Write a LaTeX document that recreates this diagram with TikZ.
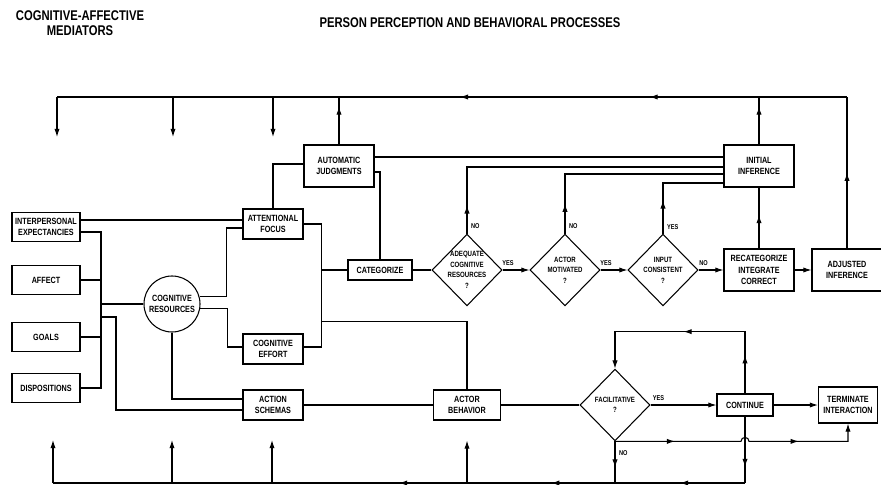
\documentclass[tikz,border=0pt]{standalone}
\usepackage{fontspec}
\setmainfont{Liberation Sans}
\newfontfamily\condfont{Liberation Sans Bold}[FakeStretch=0.8]
\usetikzlibrary{shapes.geometric,arrows.meta,decorations.markings,calc}
\newcommand\tipmark{{\arrow{Latex[length=7pt,width=4.5pt]}}}

\begin{document}
\begin{tikzpicture}[x=0.03cm, y=-0.03cm, line width=0.9pt,
  box/.style={draw, align=center, inner sep=1pt, font=\condfont\fontsize{7.7}{9}\selectfont},
  sidebox/.style={box, minimum width=2.04cm, minimum height=0.87cm},
  midbox/.style={box, minimum width=1.8cm, minimum height=0.9cm},
  bigbox/.style={box, minimum width=2.1cm, minimum height=1.26cm, font=\condfont\fontsize{7.7}{10}\selectfont},
  query/.style={draw, diamond, align=center, inner sep=-6pt, minimum width=2.1cm, minimum height=2.15cm, font=\condfont\fontsize{6.5}{9}\selectfont},
  answer/.style={font=\condfont\fontsize{6}{7}\selectfont, inner sep=3pt},
  heading/.style={align=center, font=\condfont\fontsize{12}{13}\selectfont},
  arrowed/.style={-{Latex[length=7pt,width=4.5pt]}},
  tipsat/.style={postaction={decorate, decoration={markings, #1}}},
  midtip/.style={tipsat={mark=at position #1 with \tipmark}}]
\useasboundingbox (0,0) rectangle (881,485);
\node[heading] (medtitle) at (80,23) {COGNITIVE-AFFECTIVE\\MEDIATORS};
\node[heading] (proctitle) at (470,23) {PERSON PERCEPTION AND BEHAVIORAL PROCESSES};
\node[sidebox] (inexp) at (46,227) {INTERPERSONAL\\EXPECTANCIES};
\node[sidebox] (affect) at (46,280) {AFFECT};
\node[sidebox] (goals) at (46,337) {GOALS};
\node[sidebox] (dispo) at (46,388) {DISPOSITIONS};
\node[box, circle, minimum size=1.68cm] (cogres) at (172,304) {COGNITIVE\\RESOURCES};
\node[midbox] (focus) at (273,224) {ATTENTIONAL\\FOCUS};
\node[midbox] (effort) at (273,349) {COGNITIVE\\EFFORT};
\node[midbox] (schemas) at (273,405) {ACTION\\SCHEMAS};
\node[bigbox] (autojudg) at (339,166) {AUTOMATIC\\JUDGMENTS};
\node[box, minimum width=1.92cm, minimum height=0.6cm] (categ) at (380,270) {CATEGORIZE};
\node[query] (adequate) at (467,270) {ADEQUATE\\COGNITIVE\\RESOURCES\\?};
\node[query] (motivated) at (565,270) {ACTOR\\MOTIVATED\\?};
\node[query] (consistent) at (663,270) {INPUT\\CONSISTENT\\?};
\node[bigbox] (initinf) at (759,166) {INITIAL\\INFERENCE};
\node[bigbox] (recat) at (759,270) {RECATEGORIZE\\INTEGRATE\\CORRECT};
\node[bigbox] (adjinf) at (847,270) {ADJUSTED\\INFERENCE};
\node[box, minimum width=2.0cm, minimum height=0.9cm] (actbeh) at (467,405) {ACTOR\\BEHAVIOR};
\node[query] (facil) at (615,405) {FACILITATIVE\\?};
\node[box, minimum width=1.68cm, minimum height=0.66cm] (cont) at (745,405) {CONTINUE};
\node[box, minimum width=1.77cm, minimum height=1.08cm] (term) at (848,405) {TERMINATE\\INTERACTION};
\coordinate (topL) at (57,97);
\coordinate (botL) at (53,483);
\coordinate (busT) at (101,232);
\coordinate (busB) at (101,388);
\draw ($(inexp.east)+(0,-7)$) -- ($(inexp.east -| focus.west)+(0,-7)$);
\draw ($(inexp.east)+(0,5)$) -- (busT) -- (busB) -- (dispo.east);
\draw (affect.east) -- (affect.east -| busT);
\draw (goals.east) -- (goals.east -| busT);
\draw (cogres.west -| busT) -- (cogres.west);
\draw ($(cogres.west -| busT)+(0,13)$) -- ++(15,0) |- ($(schemas.west)+(0,5)$);
\draw (cogres.15) -- ++(27,0) |- ($(focus.west)+(0,4)$);
\draw (cogres.-10) -- ++(27,0) |- ($(effort.west)+(0,-2)$);
\draw (cogres.south) |- ($(schemas.west)+(0,-6)$);
\draw (focus.north) |- ($(autojudg.west)+(0,-2)$);
\draw (focus.east) -- ++(18,0) coordinate (fbus) |- ($(effort.east)+(0,-2)$);
\draw (categ.west -| fbus) -- (categ.west);
\draw ($(fbus |- actbeh.north)+(0,-68)$) -| (actbeh.north);
\draw ($(autojudg.east)+(0,6)$) -| (categ.north);
\draw ($(autojudg.east)+(0,-9)$) -- ($(initinf.west)+(0,-9)$);
\draw (categ.east) -- (adequate.west);
\draw[arrowed] (adequate.east) -- node[answer, above, pos=0.2] {YES} (motivated.west);
\draw[arrowed] (motivated.east) -- node[answer, above, pos=0.2] {YES} (consistent.west);
\draw[arrowed] (consistent.east) -- node[answer, above, pos=0.2] {NO} (recat.west);
\draw[midtip=0.85cm] (adequate.north) |- node[answer, right, pos=0.06] {NO} ($(initinf.west)+(0,1)$);
\draw[midtip=0.9cm] (motivated.north) |- node[answer, right, pos=0.06] {NO} ($(initinf.west)+(0,8)$);
\draw[midtip=1cm] (consistent.north) |- node[answer, right, pos=0.06] {YES} ($(initinf.west)+(0,17)$);
\draw[midtip=0.55] (recat.north) -- (initinf.south);
\draw[arrowed] (recat.east) -- (adjinf.west);
\draw[midtip=0.5] (adjinf.north) -- (adjinf.north |- topL);
\draw[tipsat={mark=at position 0.25 with \tipmark, mark=at position 0.49 with \tipmark}] (adjinf.north |- topL) -- (topL);
\draw[midtip=0.8] (autojudg.north) -- (autojudg.north |- topL);
\draw[midtip=0.8] (initinf.north) -- (initinf.north |- topL);
\foreach \x [count=\i] in {57,173,273} {
  \coordinate (down\i) at (\x,137);
  \draw[arrowed] (down\i |- topL) -- (down\i);
}
\draw (schemas.east) -- (actbeh.west);
\draw (actbeh.east) -- (facil.west);
\draw[arrowed] (facil.east) -- node[answer, above, pos=0.12] {YES} (cont.west);
\draw[arrowed] (cont.east) -- (term.west);
\draw[arrowed, tipsat={mark=at position 1.15cm with \tipmark, mark=at position 3.7cm with \tipmark}] (cont.north) |- ($(facil.north)+(0,-37)$) -- (facil.north);
\draw[midtip=0.63] (facil.south) -- node[answer, right, pos=0.27] {NO} (facil.south |- botL);
\draw[midtip=0.76] (cont.south) -- (cont.south |- botL);
\draw[arrowed, tipsat={mark=at position 1.8cm with \tipmark, mark=at position 5.65cm with \tipmark}] (facil.south) -- ($(cont.south |- facil.south)+(-4,0)$) arc[start angle=180, end angle=0, radius=0.12cm] -- (term.south |- facil.south) -- (term.south);
\draw[tipsat={mark=at position 0.094 with \tipmark, mark=at position 0.28 with \tipmark, mark=at position 0.5 with \tipmark}] (cont.south |- botL) -- (botL);
\foreach \x [count=\i] in {53,172,272} {
  \coordinate (up\i) at (\x,440);
  \draw[arrowed] (up\i |- botL) -- (up\i);
}
\draw[arrowed] (actbeh.south |- botL) -- ($(actbeh.south)+(0,20)$);
\end{tikzpicture}
\end{document}
